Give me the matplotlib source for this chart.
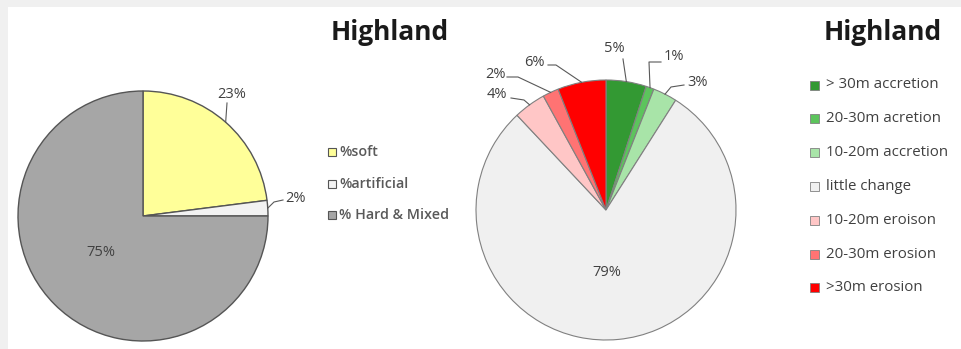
import numpy as np
import matplotlib.pyplot as plt
from matplotlib.patches import Rectangle

plt.rcParams['font.family'] = ['Open Sans', 'DejaVu Sans']

# left pie - shoreline type
type_labels = ['%soft', '%artificial', '% Hard & Mixed']
type_values = [23, 2, 75]
type_colors = ['#ffff99', '#f2f2f2', '#a6a6a6']

# right pie - shoreline change
change_labels = ['> 30m accretion', '20-30m acretion', '10-20m accretion', 'little change',
                 '10-20m eroison', '20-30m erosion', '>30m erosion']
change_values = [5, 1, 3, 79, 4, 2, 6]
change_colors = ['#339933', '#5cc45c', '#a8e4a8', '#f0f0f0', '#ffc6c6', '#ff7373', '#ff0000']

title = 'Highland'

W, H = 961, 349
fig = plt.figure(figsize=(W / 100, H / 100), dpi=100)
fig.patch.set_facecolor('#f0f0f0')
ax = fig.add_axes([0, 0, 1, 1])


def Y(py):
    # pixel row -> data y
    return H - py


def leader(wedge, cx, cy, r, txt, tx, ty, path):
    # label text at (tx, ty) px, line through path points then to wedge edge
    ang = np.deg2rad((wedge.theta1 + wedge.theta2) / 2)
    ex, ey = cx + r * np.cos(ang), cy + r * np.sin(ang)
    ax.text(tx, Y(ty), txt, ha='center', va='center', fontsize=10.5, color='#404040')
    if path:
        xs = [p[0] for p in path] + [ex]
        ys = [Y(p[1]) for p in path] + [ey]
        ax.plot(xs, ys, color='#595959', lw=0.8)


# left pie
c1x, c1y, r1 = 143, Y(216), 125
w1, _ = ax.pie(type_values, colors=type_colors, startangle=90, counterclock=False,
               center=(c1x, c1y), radius=r1,
               wedgeprops=dict(edgecolor='#555555', linewidth=1.0))
leader(w1[0], c1x, c1y, r1, '23%', 232, 94, [(227, 103)])
leader(w1[1], c1x, c1y, r1, '2%', 296, 198, [(283, 200), (274, 202)])
ax.text(101, Y(252), '75%', ha='center', va='center', fontsize=10.5, color='#404040')

# right pie
c2x, c2y, r2 = 606, Y(210), 130
w2, _ = ax.pie(change_values, colors=change_colors, startangle=90, counterclock=False,
               center=(c2x, c2y), radius=r2,
               wedgeprops=dict(edgecolor='#808080', linewidth=0.8))
leader(w2[0], c2x, c2y, r2, '5%', 614, 48, [(623, 59)])
leader(w2[1], c2x, c2y, r2, '1%', 674, 56, [(661, 62), (649, 62)])
leader(w2[2], c2x, c2y, r2, '3%', 698, 82, [(684, 85), (671, 87)])
leader(w2[4], c2x, c2y, r2, '4%', 497, 95, [(511, 98), (524, 100)])
leader(w2[5], c2x, c2y, r2, '2%', 495, 74, [(507, 77), (518, 77)])
leader(w2[6], c2x, c2y, r2, '6%', 534, 63, [(548, 65), (556, 65)])
ax.text(607, Y(273), '79%', ha='center', va='center', fontsize=10.5, color='#404040')

# titles
ax.text(390, Y(33), title, ha='center', va='center', fontsize=19, fontweight='bold', color='#1a1a1a')
ax.text(883, Y(33), title, ha='center', va='center', fontsize=19, fontweight='bold', color='#1a1a1a')

# legends
for i, (lab, col) in enumerate(zip(type_labels, type_colors)):
    py = 152 + i * 31.5
    ax.add_patch(Rectangle((328, Y(py) - 4), 8, 8, facecolor=col, edgecolor='#555555', lw=0.8))
    ax.text(339, Y(py), lab, ha='left', va='center', fontsize=10.3, fontweight='semibold',
            color='#595959')

for i, (lab, col) in enumerate(zip(change_labels, change_colors)):
    py = 85 + i * 33.8
    ax.add_patch(Rectangle((810, Y(py) - 4.5), 9, 9, facecolor=col, edgecolor='#808080', lw=0.6))
    ax.text(826, Y(py), lab, ha='left', va='center', fontsize=10.8, color='#404040')

# white panel inside the grey frame
ax.add_patch(Rectangle((8, 0), W - 8, H - 7, facecolor='white', edgecolor='none', zorder=0))
ax.set_xlim(0, W)
ax.set_ylim(0, H)
ax.set_aspect('equal')
ax.axis('off')

fig.savefig('out.png', dpi=100, facecolor=fig.get_facecolor())
